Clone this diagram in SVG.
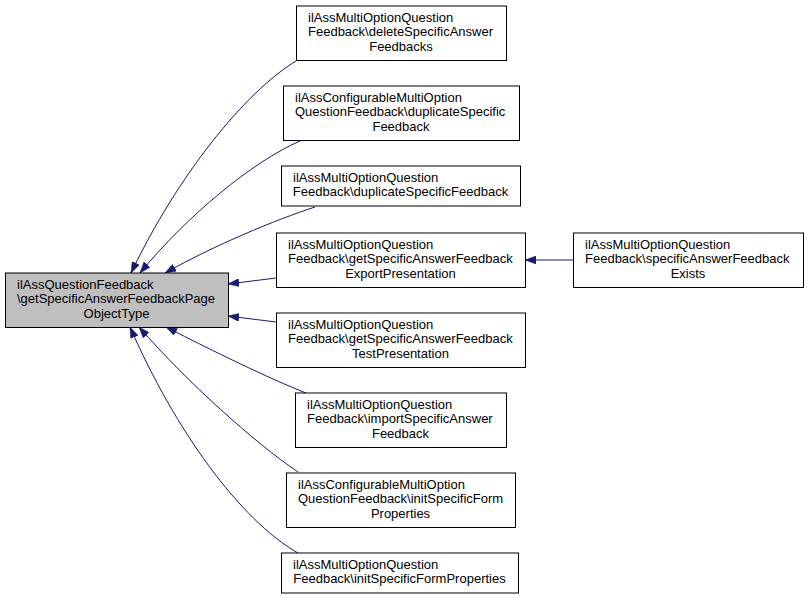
<svg xmlns="http://www.w3.org/2000/svg" width="808" height="599" viewBox="0 0 808 599">
<style>
.n rect{fill:#ffffff;stroke:#000000;stroke-width:1}
.n.main rect{fill:#bfbfbf}
.n text{font-family:"Liberation Sans",Arial,Helvetica,sans-serif;font-size:13px;fill:#000000}
.n text.c{text-anchor:middle}
.e path{fill:none;stroke:#191970;stroke-width:1;marker-end:url(#arr)}
</style>
<defs>
<marker id="arr" viewBox="0 0 11 8" refX="11" refY="4" markerWidth="11" markerHeight="8" markerUnits="userSpaceOnUse" orient="auto">
<path d="M0,0 L11,4 L0,8 z" fill="#191970" stroke="#191970" stroke-width="0.5"/>
</marker>
</defs>
<rect x="0" y="0" width="808" height="599" fill="#ffffff"/>
<g id="edges" class="e">
<path d="M296,61 C245,92 178,175 131,273"/>
<path d="M300,141 C252,162 188,215 140,273"/>
<path d="M315,207 C275,220 215,245 165,273"/>
<path d="M276,278 L228,284"/>
<path d="M276,322 L228,316"/>
<path d="M306,393 C268,378 215,352 166,327"/>
<path d="M298,472 C255,443 188,383 139,327"/>
<path d="M298,553 C240,520 175,430 130,327"/>
<path d="M573,260 L525,260"/>
</g>
<g id="node_main" class="n main">
<rect x="5.5" y="273" width="223" height="54.5"/>
<text x="17" y="288.5">ilAssQuestionFeedback</text>
<text x="17" y="303.2">\getSpecificAnswerFeedbackPage</text>
<text class="c" x="116.5" y="317.8">ObjectType</text>
</g>
<g id="node_delete" class="n">
<rect x="296.5" y="6" width="210" height="54.5"/>
<text x="308" y="21.5">ilAssMultiOptionQuestion</text>
<text x="308" y="36.2">Feedback\deleteSpecificAnswer</text>
<text class="c" x="401" y="50.8">Feedbacks</text>
</g>
<g id="node_cfg_duplicate" class="n">
<rect x="283.5" y="86" width="236" height="54.5"/>
<text x="295" y="101.5">ilAssConfigurableMultiOption</text>
<text x="295" y="116.2">QuestionFeedback\duplicateSpecific</text>
<text class="c" x="401" y="130.8">Feedback</text>
</g>
<g id="node_duplicate" class="n">
<rect x="281.5" y="166" width="239" height="40"/>
<text x="293" y="181.5">ilAssMultiOptionQuestion</text>
<text class="c" x="400.5" y="196.2">Feedback\duplicateSpecificFeedback</text>
</g>
<g id="node_export" class="n">
<rect x="276.5" y="233" width="249" height="54.5"/>
<text x="288" y="248.5">ilAssMultiOptionQuestion</text>
<text x="288" y="263.2">Feedback\getSpecificAnswerFeedback</text>
<text class="c" x="400.5" y="277.8">ExportPresentation</text>
</g>
<g id="node_test" class="n">
<rect x="276.5" y="313" width="249" height="54.5"/>
<text x="288" y="328.5">ilAssMultiOptionQuestion</text>
<text x="288" y="343.2">Feedback\getSpecificAnswerFeedback</text>
<text class="c" x="400.5" y="357.8">TestPresentation</text>
</g>
<g id="node_import" class="n">
<rect x="295.5" y="393" width="211" height="54.5"/>
<text x="307" y="408.5">ilAssMultiOptionQuestion</text>
<text x="307" y="423.2">Feedback\importSpecificAnswer</text>
<text class="c" x="400.5" y="437.8">Feedback</text>
</g>
<g id="node_cfg_init" class="n">
<rect x="286.5" y="473" width="229" height="54.5"/>
<text x="298" y="488.5">ilAssConfigurableMultiOption</text>
<text x="298" y="503.2">QuestionFeedback\initSpecificForm</text>
<text class="c" x="400.5" y="517.8">Properties</text>
</g>
<g id="node_init" class="n">
<rect x="281.5" y="553" width="237" height="40"/>
<text x="293" y="568.5">ilAssMultiOptionQuestion</text>
<text class="c" x="399.5" y="583.2">Feedback\initSpecificFormProperties</text>
</g>
<g id="node_exists" class="n">
<rect x="573.5" y="233" width="230" height="54.5"/>
<text x="585" y="248.5">ilAssMultiOptionQuestion</text>
<text x="585" y="263.2">Feedback\specificAnswerFeedback</text>
<text class="c" x="688" y="277.8">Exists</text>
</g>
</svg>
